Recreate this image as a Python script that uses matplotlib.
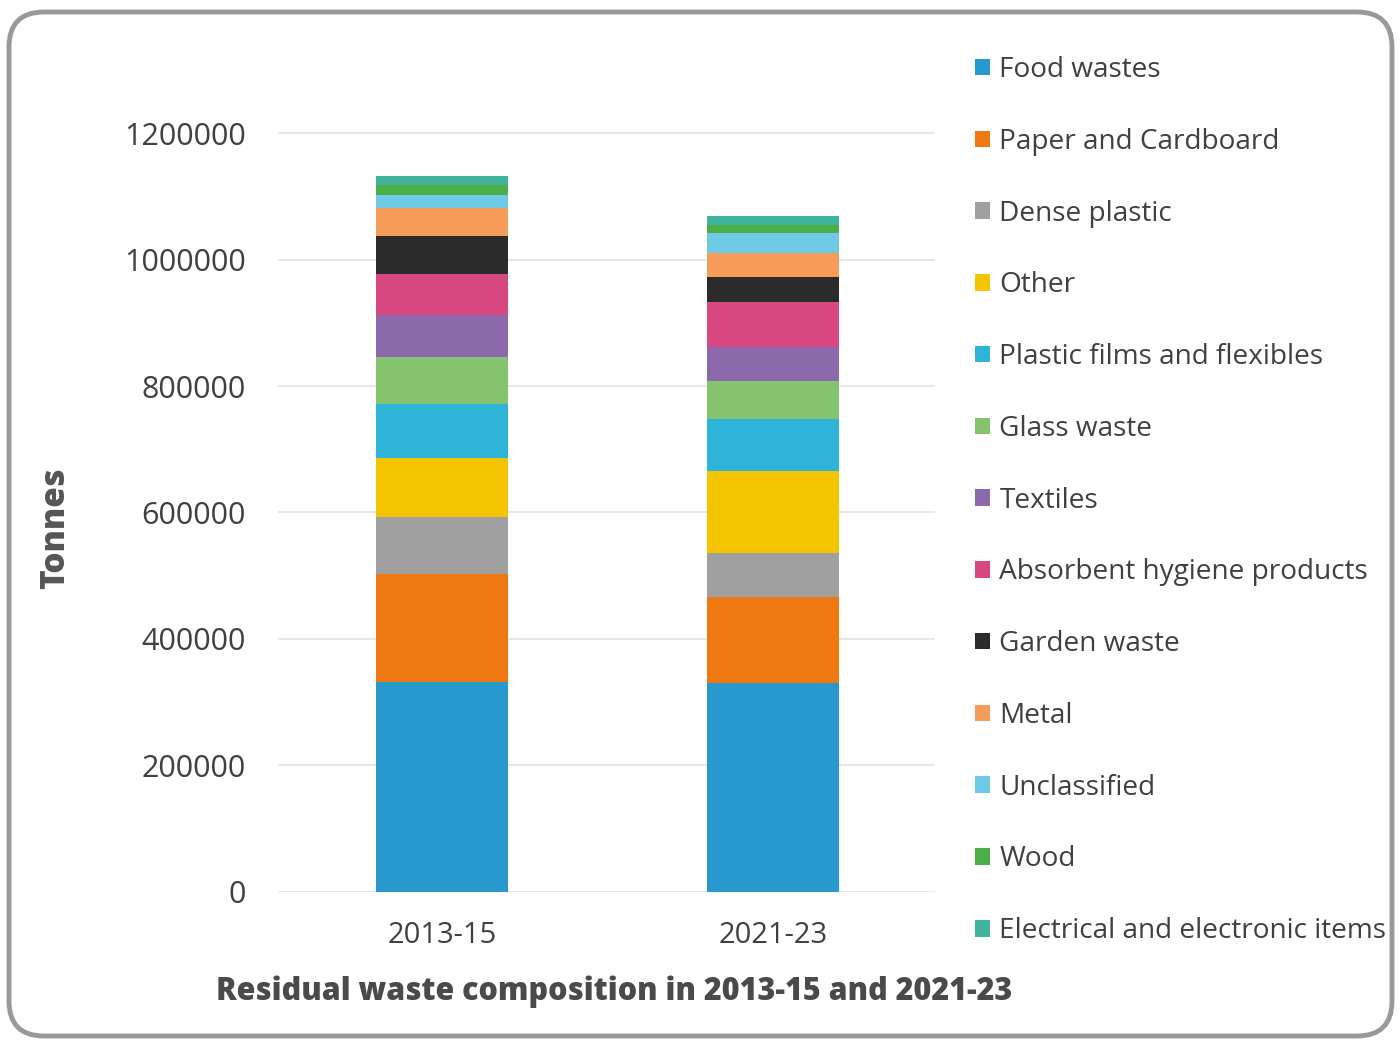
import matplotlib
matplotlib.use("Agg")
import matplotlib.pyplot as plt
from matplotlib.patches import FancyBboxPatch, Patch

plt.rcParams['font.family'] = ['Open Sans', 'DejaVu Sans']

periods = ["2013-15", "2021-23"]
categories = [
    "Food wastes", "Paper and Cardboard", "Dense plastic", "Other",
    "Plastic films and flexibles", "Glass waste", "Textiles",
    "Absorbent hygiene products", "Garden waste", "Metal",
    "Unclassified", "Wood", "Electrical and electronic items",
]
# tonnes per category, one value per period
food = [331000, 329600]
paper = [171600, 136100]
dense_plastic = [90700, 69700]
other = [93400, 130700]
plastic_films = [85000, 81400]
glass = [74900, 60600]
textiles = [65500, 54300]
hygiene = [65400, 71200]
garden = [60200, 39600]
metal = [44800, 38000]
unclassified = [20100, 31700]
wood = [15800, 12200]
electrical = [14200, 14200]

series = [food, paper, dense_plastic, other, plastic_films, glass, textiles,
          hygiene, garden, metal, unclassified, wood, electrical]
colors = ["#2799CF", "#EF7810", "#A0A0A0", "#F5C400", "#2DB4D8", "#85C36F",
          "#8B69AB", "#D84880", "#2B2B2B", "#F79C58", "#6ECAE4", "#4CAE48",
          "#40B39C"]

W, H = 1400, 1044
fig = plt.figure(figsize=(W / 100, H / 100), dpi=100)

# rounded frame around the whole panel, kept behind the axes
frame = FancyBboxPatch((9 / W, 8 / H), (1392 - 9) / W, (1032 - 8) / H,
                       boxstyle="round,pad=0,rounding_size=0.025",
                       transform=fig.transFigure, facecolor="white",
                       edgecolor="#999999", linewidth=3.5, zorder=-5,
                       mutation_aspect=W / H)
fig.patches.append(frame)

ax = fig.add_axes([278 / W, 152.5 / H, (935 - 278) / W, 821.2 / H])
ax.set_facecolor("none")
ax.set_zorder(2)

x = list(range(len(periods)))
bottom = [0, 0]
for name, vals, c in zip(categories, series, colors):
    ax.bar(x, vals, width=0.4, bottom=bottom, color=c, label=name, zorder=3)
    bottom = [b + v for b, v in zip(bottom, vals)]

ax.set_xlim(-0.495, 1.49)
ax.set_ylim(0, 1300000)
yt = [0, 200000, 400000, 600000, 800000, 1000000, 1200000]
ax.set_yticks(yt)
ax.set_yticklabels([str(v) for v in yt])
ax.set_xticks(x)
ax.set_xticklabels(periods)
ax.grid(axis="y", color="#E3E3E3", linewidth=1.2, zorder=0)
for s in ax.spines.values():
    s.set_visible(False)
ax.tick_params(axis="y", length=0, pad=23, labelsize=22, labelcolor="#404040")
ax.tick_params(axis="x", length=0, pad=21, labelsize=21, labelcolor="#404040")

fig.text(55 / W, 1 - 528 / H, "Tonnes", rotation=90, ha="center", va="center",
         fontsize=24, fontweight="heavy", color="#555555")
fig.text(614 / W, 1 - 992 / H, "Residual waste composition in 2013-15 and 2021-23",
         ha="center", va="center", fontsize=22, fontweight="heavy",
         color="#4A4A4A")

handles = [Patch(facecolor=c, edgecolor="none") for c in colors]
leg = fig.legend(handles, categories, loc="upper left",
                 bbox_to_anchor=(975 / W, 1 - 56 / H),
                 frameon=False, fontsize=20.2, handlelength=0.53,
                 handleheight=0.53, handletextpad=0.34, labelspacing=1.56,
                 borderaxespad=0, borderpad=0)
for t in leg.get_texts():
    t.set_color("#404040")

fig.savefig("out.png", dpi=100)
